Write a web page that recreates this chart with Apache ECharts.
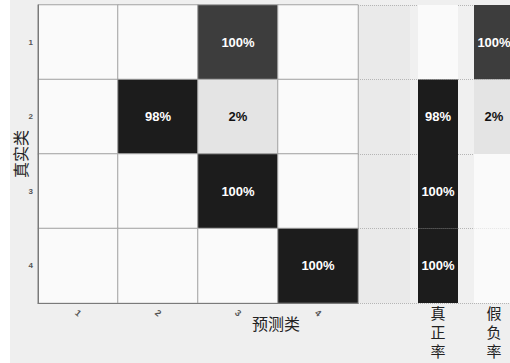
<!DOCTYPE html>
<html>
<head>
<meta charset="utf-8">
<script src="https://cdn.jsdelivr.net/npm/echarts@6/dist/echarts.min.js"></script>
<style>
  html, body { margin: 0; padding: 0; background: #ffffff; }
  #chart { width: 510px; height: 363px; }
</style>
</head>
<body>
<div id="chart"></div>
<script>
// Class labels (true class on rows, predicted class on columns)
const trueClasses = ['1', '2', '3', '4'];
const predClasses = ['1', '2', '3', '4'];

// Sample counts per (true row, predicted column)
const row1 = [0, 0, 42, 0];
const row2 = [0, 49, 1, 0];
const row3 = [0, 0, 50, 0];
const row4 = [0, 0, 0, 50];

// Row summary columns
const summaryCols = ['', '真正率', '假负率'];
const truePositive = [0, 49, 50, 50];
const falseNegative = [42, 1, 0, 0];

const counts = [row1, row2, row3, row4];
const rowTotals = counts.map(r => r.reduce((a, b) => a + b, 0));
const pct = (v, r) => Math.round(100 * v / rowTotals[r]);

const cjk = '"Noto Sans CJK SC", sans-serif';
const num = '"Liberation Sans", Arial, sans-serif';

const matrixData = [];
counts.forEach((row, r) => {
  row.forEach((v, c) => {
    matrixData.push({
      value: [c, r, v, pct(v, r)],
      label: { color: v > 20 ? '#ffffff' : '#111111' }
    });
  });
});

const summaryData = [];
truePositive.forEach((v, r) => summaryData.push([1, r, v, pct(v, r)]));
falseNegative.forEach((v, r) => summaryData.push([2, r, v, pct(v, r)]));

const chart = echarts.init(document.getElementById('chart'), null, { renderer: 'svg' });

chart.setOption({
  backgroundColor: '#efefef',
  animation: false,
  graphic: [{
    type: 'rect', z: -1, silent: true,
    shape: { x: 0, y: 0, width: 10, height: 363 },
    style: { fill: '#ffffff' }
  }],
  grid: [
    { left: 38, top: 5, width: 320, height: 298, outerBoundsMode: 'none' },
    { left: 354, top: 5, width: 168, height: 298, outerBoundsMode: 'none' }
  ],
  xAxis: [
    {
      type: 'category', gridIndex: 0, data: predClasses, z: 5,
      name: '预测类', nameLocation: 'middle', nameGap: 12, nameMoveOverlap: false,
      nameTextStyle: { fontFamily: cjk, fontSize: 16, color: '#222', padding: [0, 0, 0, 156] },
      axisLine: { show: true, lineStyle: { color: '#7a7a7a', width: 1 } },
      axisTick: { show: false },
      axisLabel: { rotate: -40, align: 'center', verticalAlign: 'middle', margin: 10, fontSize: 9, color: '#555', fontFamily: num, fontWeight: 'bold' },
      splitLine: { show: false }
    },
    {
      type: 'category', gridIndex: 1, data: summaryCols, z: 0,
      axisLine: { show: false }, axisTick: { show: false },
      axisLabel: {
        margin: 0, fontSize: 15, lineHeight: 19, color: '#222', fontFamily: cjk,
        formatter: s => s.split('').join('\n')
      },
      splitLine: { show: false },
      splitArea: { show: true, areaStyle: { color: ['#eaeaea', '#f0f0f0', '#f0f0f0'] } }
    }
  ],
  yAxis: [
    {
      type: 'category', gridIndex: 0, data: trueClasses, inverse: true, z: 5,
      name: '真实类', nameLocation: 'middle', nameGap: 10, nameMoveOverlap: false,
      nameTextStyle: { fontFamily: cjk, fontSize: 16, color: '#222' },
      axisLine: { show: true, lineStyle: { color: '#7a7a7a', width: 1 } },
      axisTick: { show: false },
      axisLabel: { margin: 5, fontSize: 8, color: '#555', fontFamily: num, fontWeight: 'bold' },
      splitLine: { show: false }
    },
    {
      type: 'category', gridIndex: 1, data: trueClasses, inverse: true, z: 1,
      axisLine: { show: false }, axisTick: { show: false }, axisLabel: { show: false },
      splitLine: { show: true, lineStyle: { color: '#b5b5b5', type: 'dotted', width: 1 } }
    }
  ],
  visualMap: {
    type: 'piecewise', show: false, dimension: 2, seriesIndex: [0, 1],
    pieces: [
      { value: 0, color: '#fafafa' },
      { gt: 0, lte: 5, color: '#e4e4e4' },
      { gt: 5, lte: 45, color: '#3d3d3d' },
      { gt: 45, color: '#1c1c1c' }
    ]
  },
  series: [
    {
      type: 'heatmap', xAxisIndex: 0, yAxisIndex: 0,
      data: matrixData,
      itemStyle: { borderColor: '#a2a2a2', borderWidth: 1 },
      label: {
        show: true, fontSize: 13, fontWeight: 'bold', fontFamily: num,
        formatter: p => p.value[2] > 0 ? p.value[3] + '%' : ''
      },
      emphasis: { disabled: true }
    },
    {
      type: 'custom', xAxisIndex: 1, yAxisIndex: 1, z: 3,
      data: summaryData,
      renderItem: (params, api) => {
        const c = api.coord([api.value(0), api.value(1)]);
        const s = api.size([1, 1]);
        const w = s[0] * 40 / 56;
        const v = api.value(2);
        const children = [{
          type: 'rect',
          shape: { x: c[0] - w / 2, y: c[1] - s[1] / 2, width: w, height: s[1] },
          style: { fill: api.visual('color') }
        }];
        if (v > 0) {
          children.push({
            type: 'text',
            style: {
              text: api.value(3) + '%', x: c[0], y: c[1],
              align: 'center', verticalAlign: 'middle',
              fill: v > 20 ? '#ffffff' : '#111111',
              font: 'bold 13px "Liberation Sans", Arial, sans-serif'
            }
          });
        }
        return { type: 'group', children };
      }
    }
  ]
});
</script>
</body>
</html>
